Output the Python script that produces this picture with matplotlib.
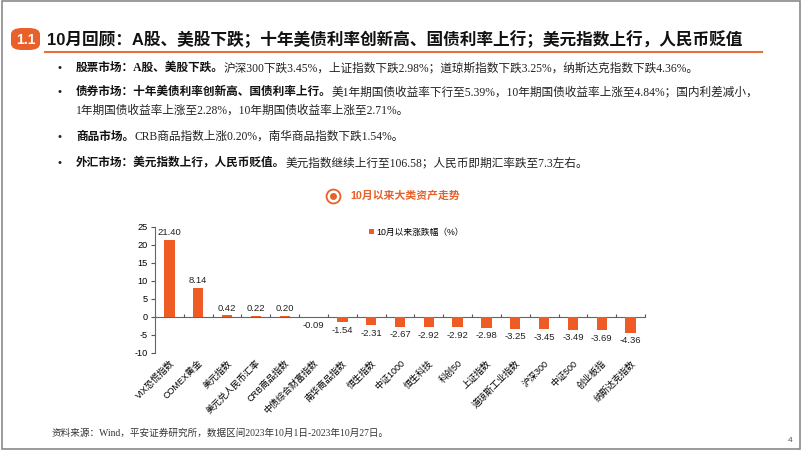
import matplotlib
matplotlib.use("Agg")
import matplotlib.pyplot as plt
from matplotlib.patches import FancyBboxPatch, Rectangle
import numpy as np

plt.rcParams['font.family'] = ['Liberation Sans', 'Noto Sans CJK SC']
plt.rcParams['axes.unicode_minus'] = False

# ---- data ----
categories = ["VIX恐慌指数", "COMEX黄金", "美元指数", "美元兑人民币汇率", "CRB商品指数",
              "中债综合财富指数", "南华商品指数", "恒生指数", "中证1000", "恒生科技",
              "科创50", "上证指数", "道琼斯工业指数", "沪深300", "中证500", "创业板指",
              "纳斯达克指数"]
changes = [21.40, 8.14, 0.42, 0.22, 0.20, -0.09, -1.54, -2.31, -2.67, -2.92,
           -2.92, -2.98, -3.25, -3.45, -3.49, -3.69, -4.36]
y_ticks = [25, 20, 15, 10, 5, 0, -5, -10]

page_title = "10月回顾：A股、美股下跌；十年美债利率创新高、国债利率上行；美元指数上行，人民币贬值"
bullets = [
    ("股票市场：A股、美股下跌。", "沪深300下跌3.45%，上证指数下跌2.98%；道琼斯指数下跌3.25%，纳斯达克指数下跌4.36%。"),
    ("债券市场：十年美债利率创新高、国债利率上行。", "美1年期国债收益率下行至5.39%，10年期国债收益率上涨至4.84%；国内利差减小，"),
    ("", "1年期国债收益率上涨至2.28%，10年期国债收益率上涨至2.71%。"),
    ("商品市场。", "CRB商品指数上涨0.20%，南华商品指数下跌1.54%。"),
    ("外汇市场：美元指数上行，人民币贬值。", "美元指数继续上行至106.58；人民币即期汇率跌至7.3左右。"),
]
bullet_y = [68, 92, 111, 137, 163]
chart_title = "10月以来大类资产走势"
legend_label = "10月以来涨跌幅（%）"
source = "资料来源：Wind，平安证券研究所，数据区间2023年10月1日-2023年10月27日。"

ORANGE = "#EE5B24"
W, H = 802, 451

fig = plt.figure(figsize=(W / 100, H / 100), dpi=100)
fig.patch.set_facecolor("white")


def px(x, y):
    return x / W, 1 - y / H


# page border
fig.patches.append(Rectangle((2 / W, 2 / H), (W - 4) / W, (H - 3) / H, transform=fig.transFigure,
                             fill=False, edgecolor="#8a8a8a", linewidth=1.2))

# header badge + title
bx, by = px(11, 50)
fig.patches.append(FancyBboxPatch((bx, by), 29 / W, 22 / H, transform=fig.transFigure,
                                  boxstyle="round,pad=0,rounding_size=0.014",
                                  facecolor="#E8602A", edgecolor="none"))
fig.text(*px(25.5, 39.5), "1.1", color="white", fontsize=10, fontweight="bold",
         ha="center", va="center")
fig.text(*px(47, 39.5), page_title, fontsize=12, fontweight="bold", color="#111111",
         ha="left", va="center")
fig.add_artist(plt.Line2D([45 / W, 762 / W], [1 - 52 / H, 1 - 52 / H], transform=fig.transFigure,
                          color="#E8703A", linewidth=1.5))

# bullets
serif = ['Liberation Serif', 'Noto Sans CJK SC']
renderer = fig.canvas.get_renderer()
for (bold_part, rest), yy in zip(bullets, bullet_y):
    x0, y0 = px(76, yy)
    if bold_part:
        fig.text(*px(59, yy), "•", fontsize=8, color="#222222", ha="center", va="center")
        t = fig.text(x0, y0, bold_part, fontsize=8.4, fontweight="bold", family=serif,
                     color="#111111", ha="left", va="center")
        bb = t.get_window_extent(renderer)
        x0 = bb.x1 / W
    fig.text(x0, y0, rest, fontsize=8.4, family=serif, color="#222222", ha="left", va="center")

# chart title with icon
cx, cy = px(333, 196)
fig.add_artist(plt.Line2D([cx], [cy], transform=fig.transFigure, marker="o", markersize=10,
                          markerfacecolor="white", markeredgecolor="#E8602A", markeredgewidth=1.3))
fig.add_artist(plt.Line2D([cx], [cy], transform=fig.transFigure, marker="o", markersize=5,
                          markerfacecolor="#E8602A", markeredgecolor="none"))
fig.text(*px(350, 196), chart_title, fontsize=7.8, fontweight="bold", color="#E8602A",
         ha="left", va="center")

# bar chart
ax = fig.add_axes([155 / W, 1 - 353 / H, 490 / W, (353 - 226.7) / H])
x = np.arange(len(categories))
ax.bar(x, changes, width=0.36, color=ORANGE, label=legend_label, zorder=3)
ax.set_xlim(-0.5, len(categories) - 0.5)
ax.set_ylim(-10, 25)
ax.set_yticks(y_ticks)
ax.tick_params(axis="y", labelsize=6.6, length=3, width=0.8, color="#555555", pad=2)
for s in ["top", "right"]:
    ax.spines[s].set_visible(False)
ax.spines["left"].set_color("#666666")
ax.spines["bottom"].set_position(("data", 0))
ax.spines["bottom"].set_color("#666666")
ax.set_xticks(x)
ax.set_xticklabels(categories, rotation=45, ha="right", va="top", rotation_mode="anchor",
                   fontsize=6.5)
ax.tick_params(axis="x", which="major", length=0, pad=30)
ax.set_xticks(np.arange(len(categories) + 1) - 0.5, minor=True)
ax.tick_params(axis="x", which="minor", length=2.5, direction="in", color="#555555", width=0.8)

for xi, v in zip(x, changes):
    if v >= 0:
        ax.annotate(f"{v:.2f}", (xi, v), xytext=(0, 2), textcoords="offset points",
                    ha="center", va="bottom", fontsize=6.8, color="#222222")
    else:
        ax.annotate(f"{v:.2f}", (xi, v), xytext=(0, -2.5), textcoords="offset points",
                    ha="center", va="top", fontsize=6.8, color="#222222")

ax.legend(loc="upper left", bbox_to_anchor=(0.43, 1.02), frameon=False, fontsize=6.3,
          handlelength=0.5, handleheight=0.5, handletextpad=0.3, borderaxespad=0)

# footer
fig.text(*px(52, 433), source, fontsize=6.9, family=serif, color="#333333", ha="left", va="center")
fig.text(*px(790, 440), "4", fontsize=6, color="#555555", ha="center", va="center")

fig.savefig("out.png", dpi=100, facecolor="white")
